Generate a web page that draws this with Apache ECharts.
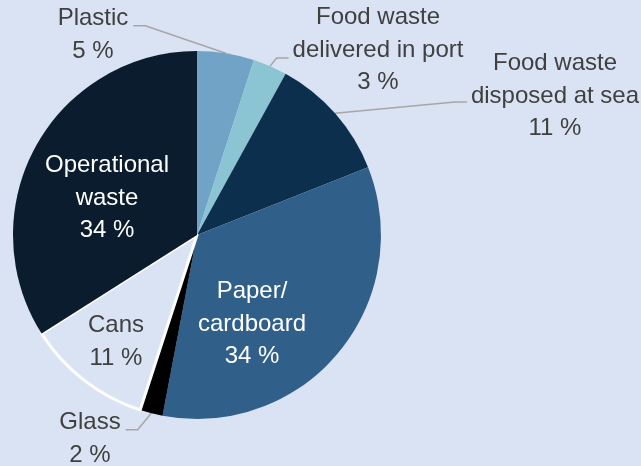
<!DOCTYPE html>
<html>
<head>
<meta charset="utf-8">
<script src="https://cdn.jsdelivr.net/npm/echarts@6/dist/echarts.min.js"></script>
<style>
  html, body { margin: 0; padding: 0; background: #dae3f3; }
  #chart { width: 641px; height: 466px; }
</style>
</head>
<body>
<div id="chart"></div>
<script>
// Waste fractions on board (share of total, %)
const categories = [
  'Plastic',
  'Food waste delivered in port',
  'Food waste disposed at sea',
  'Paper/cardboard',
  'Glass',
  'Cans',
  'Operational waste'
];
const labelText = [
  'Plastic',
  'Food waste\ndelivered in port',
  'Food waste\ndisposed at sea',
  'Paper/\ncardboard',
  'Glass',
  'Cans',
  'Operational\nwaste'
];
const shares = [5, 3, 11, 34, 2, 11, 34];

const BG = '#dae3f3';
const sliceColors = ['#71a3c6', '#8bc4d2', '#0d2f4e', '#30608a', '#000000', BG, '#0a1c2e'];

// Label placement: centre of the text block, whether it sits inside the slice,
// and for outside labels the leader's horizontal foot relative to the text.
const labelPlacement = {
  'Plastic':                      { x: 93,  y: 35,  inside: false, side: 'right', lineDy: 7 },
  'Food waste delivered in port': { x: 378, y: 50,  inside: false, side: 'left',  lineDy: 8,  lineRow: 1 },
  'Food waste disposed at sea':   { x: 555, y: 96,  inside: false, side: 'left',  lineDy: 6,  lineRow: 1 },
  'Paper/cardboard':              { x: 252, y: 324, inside: true,  white: true },
  'Glass':                        { x: 90,  y: 439, inside: false, side: 'right', lineDy: 7 },
  'Cans':                         { x: 116, y: 342, inside: true },
  'Operational waste':            { x: 107, y: 198, inside: true,  white: true }
};

const FONT = 'Liberation Sans';
const FS = 24;
const LH = 32.5;

const data = categories.map((name, i) => {
  const p = labelPlacement[name];
  const item = {
    name,
    value: shares[i],
    itemStyle: { color: sliceColors[i] },
    label: {
      position: p.inside ? 'inside' : 'outside',
      color: p.white ? '#ffffff' : '#404040'
    },
    labelLine: { show: !p.inside }
  };
  if (name === 'Cans') {
    item.itemStyle.borderColor = '#ffffff';
    item.itemStyle.borderWidth = 3;
  }
  return item;
});

const chart = echarts.init(document.getElementById('chart'));
chart.setOption({
  backgroundColor: BG,
  animation: false,
  series: [{
    type: 'pie',
    center: [197, 235],
    radius: [0, 184],
    startAngle: 90,
    clockwise: true,
    avoidLabelOverlap: false,
    data,
    label: {
      show: true,
      fontFamily: FONT,
      fontSize: FS,
      lineHeight: LH,
      align: 'center',
      formatter: (p) => labelText[p.dataIndex] + '\n' + p.value + ' %'
    },
    labelLine: {
      show: true,
      length: 10,
      length2: 10,
      lineStyle: { color: '#a6a6a6', width: 1.5 }
    },
    labelLayout: function (params) {
      const name = categories[params.dataIndex];
      const p = labelPlacement[name];
      const out = { x: p.x, y: p.y, align: 'center', verticalAlign: 'middle', hideOverlap: false };
      if (!p.inside && params.labelLinePoints) {
        const w = params.labelRect.width;
        const h = params.labelRect.height;
        const rows = Math.round(h / LH);
        const top = p.y - rows * LH / 2;
        const row = p.lineRow || 0;
        const ly = top + LH * (row + 0.5) + p.lineDy;
        // width of the row the leader attaches to
        const lines = (labelText[params.dataIndex] + '\n' + shares[params.dataIndex] + ' %').split('\n');
        const ctx = document.createElement('canvas').getContext('2d');
        ctx.font = FS + 'px "' + FONT + '"';
        const rw = ctx.measureText(lines[row]).width;
        let end, elbow;
        if (p.side === 'right') {
          end = [p.x + rw / 2 + 5, ly];
          elbow = [end[0] + 12, ly];
        } else {
          end = [p.x - rw / 2 - 4, ly];
          elbow = [end[0] - 12, ly];
        }
        out.labelLinePoints = [params.labelLinePoints[0], elbow, end];
      }
      return out;
    }
  }]
});
</script>
</body>
</html>
